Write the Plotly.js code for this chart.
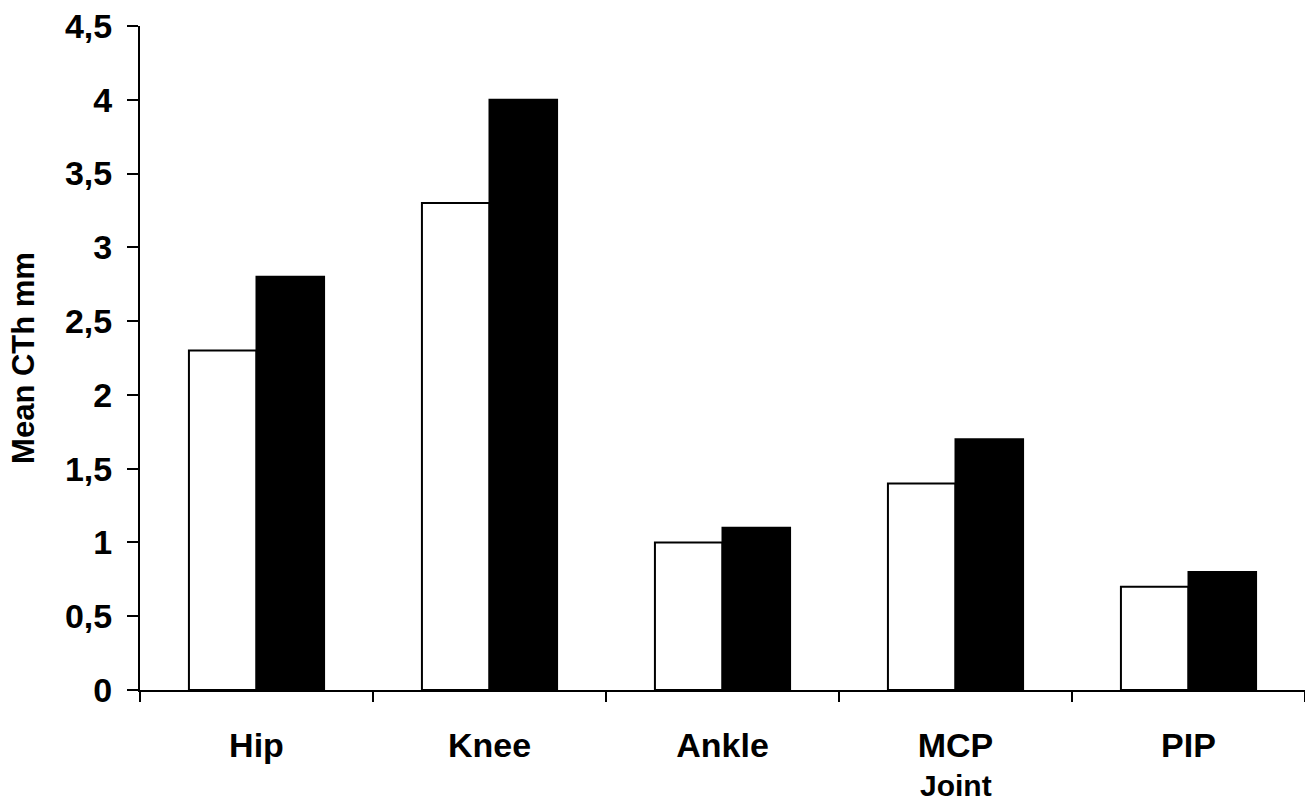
<!DOCTYPE html>
<html>
<head>
<meta charset="utf-8">
<script src="https://cdn.plot.ly/plotly-3.0.1.min.js"></script>
<style>html,body{margin:0;padding:0;background:#fff;}</style>
</head>
<body>
<div id="chart" style="width:1305px;height:801px;"></div>
<script>
const categories = ["Hip", "Knee", "Ankle", "MCP", "PIP"];
const seriesWhite = [2.3, 3.3, 1.0, 1.4, 0.7];
const seriesBlack = [2.8, 4.0, 1.1, 1.7, 0.8];
const yTickValues = [0, 0.5, 1, 1.5, 2, 2.5, 3, 3.5, 4, 4.5];
const xTitle = "Joint";
const yTitle = "Mean CTh mm";

const font = "Liberation Sans, Arial, sans-serif";

const traces = [
  {type: "bar", x: categories, y: seriesWhite, name: "A",
   marker: {color: "#ffffff", line: {color: "#000000", width: 2}}, hoverinfo: "skip"},
  {type: "bar", x: categories, y: seriesBlack, name: "B",
   marker: {color: "#000000", line: {color: "#000000", width: 2}}, hoverinfo: "skip"}
];

const layout = {
  width: 1305, height: 801,
  margin: {l: 140, r: 0, t: 26, b: 111},
  paper_bgcolor: "#fff", plot_bgcolor: "#fff",
  separators: ",.",
  showlegend: false,
  barmode: "group", bargap: 0.42, bargroupgap: 0,
  font: {family: font, color: "#000"},
  xaxis: {
    type: "category", range: [-0.5, 4.5],
    showline: true, linecolor: "#000", linewidth: 2,
    ticks: "outside", tickson: "boundaries", ticklen: 10, tickwidth: 2, tickcolor: "#000",
    showgrid: false, zeroline: false,
    tickfont: {family: font, size: 34, weight: "bold"},
    ticklabelstandoff: 24
  },
  yaxis: {
    range: [0, 4.5], tickvals: yTickValues,
    showline: true, linecolor: "#000", linewidth: 2,
    ticks: "outside", ticklen: 11, tickwidth: 2, tickcolor: "#000",
    showgrid: false, zeroline: false,
    tickfont: {family: font, size: 34, weight: "bold"},
    ticklabelstandoff: 8,
    title: {text: yTitle, font: {family: font, size: 31, weight: "bold"}, standoff: 21}
  },
  annotations: [
    {text: xTitle, x: 3, xref: "x", y: 0, yref: "paper", yanchor: "top", yshift: -77,
     showarrow: false, font: {family: font, size: 30, weight: "bold", color: "#000"}}
  ]
};

Plotly.newPlot("chart", traces, layout, {displayModeBar: false, staticPlot: true});
</script>
</body>
</html>
